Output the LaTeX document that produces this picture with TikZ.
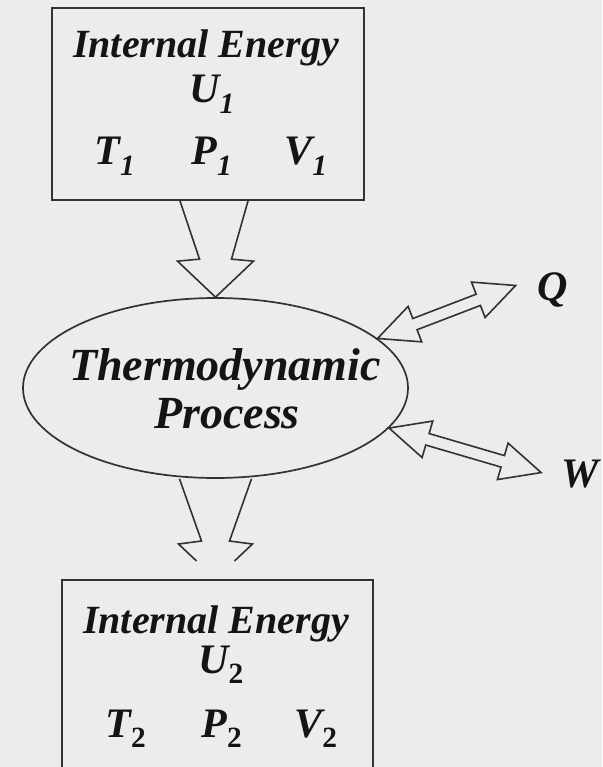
\documentclass[tikz,border=0pt]{standalone}
\usepackage{fontspec}
\setmainfont{Liberation Serif}[BoldItalicFont={Liberation Serif Bold Italic}]
\usetikzlibrary{calc,shapes.geometric}
\definecolor{paper}{RGB}{236,236,236}
\definecolor{inkgray}{RGB}{50,50,50}
\definecolor{textblack}{RGB}{20,20,20}
\tikzset{
  stateframe/.style={draw=inkgray, line width=2pt, fill=paper, inner sep=0pt},
  procframe/.style={ellipse, draw=inkgray, line width=1.7pt, inner sep=0pt},
  flowline/.style={draw=inkgray, line width=1.6pt, line join=miter},
  titletext/.style={font=\fontsize{40}{40}\selectfont\bfseries\itshape, text=textblack, inner sep=0pt, anchor=base},
  vartext/.style={font=\fontsize{42}{42}\selectfont\bfseries\itshape, text=textblack, inner sep=0pt, anchor=base},
  proctext/.style={font=\fontsize{46}{46}\selectfont\bfseries\itshape, text=textblack, inner sep=0pt, anchor=base},
}
% subscript for the final state
\newcommand{\subup}[1]{\textsubscript{\upshape #1}}
% wide open arrow, tapered shaft
\newcommand{\fatdown}[2]{%
  \draw[flowline] ($(#1)+(-34,0)$) -- ($(#2)+(-16,-38)$) -- ($(#2)+(-38,-36)$) -- (#2)
    -- ($(#2)+(38,-36)$) -- ($(#2)+(16,-38)$) -- ($(#1)+(34,0)$);}
% same, head cut short
\newcommand{\cutdown}[2]{%
  \draw[flowline] ($(#1)+(-36,0)$) -- ($(#2)+(-14,-38)$) -- ($(#2)+(-37,-35)$) -- ($(#2)+(-19,-18)$);
  \draw[flowline] ($(#1)+(36,0)$) -- ($(#2)+(14,-38)$) -- ($(#2)+(37,-35)$) -- ($(#2)+(19,-18)$);}
% hollow double headed arrow
\newcommand{\hollowtwo}[2]{%
  \draw[flowline] (#1)
    -- ($(#1)!40pt!(#2)!19pt!90:(#2)$)
    -- ($(#1)!40pt!(#2)!6pt!90:(#2)$)
    -- ($(#2)!40pt!(#1)!6pt!-90:(#1)$)
    -- ($(#2)!40pt!(#1)!19pt!-90:(#1)$)
    -- (#2)
    -- ($(#2)!40pt!(#1)!19pt!90:(#1)$)
    -- ($(#2)!40pt!(#1)!6pt!90:(#1)$)
    -- ($(#1)!40pt!(#2)!6pt!-90:(#2)$)
    -- ($(#1)!40pt!(#2)!19pt!-90:(#2)$)
    -- cycle;}

\begin{document}
\begin{tikzpicture}[x=1pt,y=-1pt]
\clip (0,0) rectangle (602,767);
\fill[paper] (0,0) rectangle (602,767);

% states
\node[stateframe, minimum width=312pt, minimum height=192pt] (initial) at (208,104) {};
\node[stateframe, minimum width=311pt, minimum height=200pt] (final) at (217.5,680) {};
\node[procframe, minimum width=385pt, minimum height=180pt] (proc) at (215.5,388) {};

\node[titletext] (init title) at (206,58) {Internal Energy};
\node[vartext] (u1) at (212,103) {U\textsubscript{1}};
\node[vartext] (t1) at (115,165) {T\textsubscript{1}};
\node[vartext] (p1) at (212,165) {P\textsubscript{1}};
\node[vartext] (v1) at (306,165) {V\textsubscript{1}};

\node[proctext] (proc top) at (225,380) {Thermodynamic};
\node[proctext] (proc bot) at (227,428) {Process};

\node[titletext] (final title) at (216,633) {Internal Energy};
\node[vartext] (u2) at (221,673) {U\subup{2}};
\node[vartext] (t2) at (126,737) {T\subup{2}};
\node[vartext] (p2) at (222,737) {P\subup{2}};
\node[vartext] (v2) at (316,737) {V\subup{2}};

\node[vartext] (heat) at (553,300) {Q};
\node[vartext] (work) at (580,487) {W};

% flows
\coordinate (in top) at ($(initial.south)+(6,0)$);
\coordinate (in bot) at ($(final.north)+(-2,0)$);
\coordinate (heat tip) at ($(heat.west)+(-22,-4)$);
\coordinate (work tip) at ($(work.west)+(-20,-1)$);
\fatdown{in top}{proc.north}
\cutdown{proc.south}{in bot}
\hollowtwo{proc.17}{heat tip}
\hollowtwo{proc.-13}{work tip}
\end{tikzpicture}
\end{document}
